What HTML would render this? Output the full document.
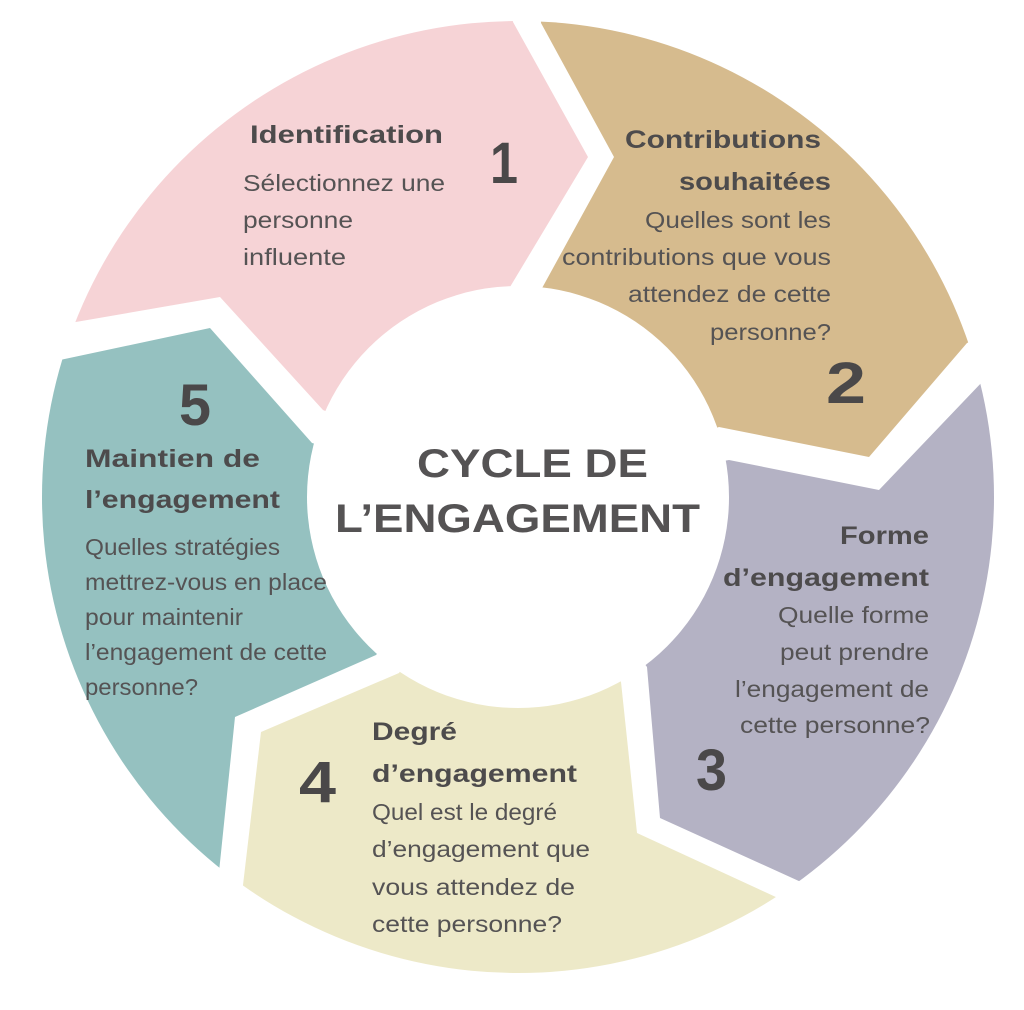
<!DOCTYPE html>
<html><head><meta charset="utf-8"><style>
html,body{margin:0;padding:0;background:#fff;overflow:hidden;width:1024px;height:1010px;}
svg{display:block;}
.h{font-family:"Liberation Sans",sans-serif;font-weight:bold;fill:#4d4b4c;font-size:25px;}
.b{font-family:"Liberation Sans",sans-serif;fill:#555354;font-size:23px;}
.n{font-family:"Liberation Sans",sans-serif;font-weight:bold;fill:#4a4849;font-size:58px;}
.c{font-family:"Liberation Sans",sans-serif;font-weight:bold;fill:#555354;font-size:40px;}
</style></head><body>
<svg width="1024" height="1010" viewBox="0 0 1024 1010" xmlns="http://www.w3.org/2000/svg">
<defs><clipPath id="oc"><circle cx="518" cy="497" r="476"/></clipPath></defs>
<g clip-path="url(#oc)">
<polygon fill="#f6d3d6" points="505,-100 513,22 588,157 510,287 518,497 323,410 220,297 70,323 -100,340 -100,-100"/>
<polygon fill="#d6bb8e" points="535,-100 541,23 614,157 541,290 518,497 719,427 869,457 967,343 1100,290 1100,-100"/>
<polygon fill="#b4b2c4" points="1100,330 984,380 879,490 729,460 518,497 647,667 660,818 801,882 900,1100 1100,1100"/>
<polygon fill="#ede9c8" points="880,1100 778,898 637,833 621,682 518,497 399,673 261,732 243,885 200,1100"/>
<polygon fill="#95c1c0" points="170,1100 219,872 235,717 376,655 518,497 312,443 210,328 60,360 -100,380 -100,1100"/>
</g>
<circle cx="518" cy="497" r="211" fill="#fff"/>

<text class="c" x="417" y="477" textLength="231" lengthAdjust="spacingAndGlyphs">CYCLE DE</text>
<text class="c" x="335" y="532" textLength="365" lengthAdjust="spacingAndGlyphs">L’ENGAGEMENT</text>

<text class="h" x="250" y="143" textLength="193" lengthAdjust="spacingAndGlyphs">Identification</text>
<text class="b" x="243" y="191" textLength="202" lengthAdjust="spacingAndGlyphs">Sélectionnez une</text>
<text class="b" x="243" y="228" textLength="110" lengthAdjust="spacingAndGlyphs">personne</text>
<text class="b" x="243" y="265" textLength="103" lengthAdjust="spacingAndGlyphs">influente</text>
<text class="n" x="490" y="183" textLength="28" lengthAdjust="spacingAndGlyphs">1</text>

<text class="h" x="625" y="148" textLength="196" lengthAdjust="spacingAndGlyphs">Contributions</text>
<text class="h" x="679" y="190" textLength="152" lengthAdjust="spacingAndGlyphs">souhaitées</text>
<text class="b" x="645" y="228" textLength="186" lengthAdjust="spacingAndGlyphs">Quelles sont les</text>
<text class="b" x="562" y="265" textLength="269" lengthAdjust="spacingAndGlyphs">contributions que vous</text>
<text class="b" x="628" y="302" textLength="203" lengthAdjust="spacingAndGlyphs">attendez de cette</text>
<text class="b" x="710" y="340" textLength="121" lengthAdjust="spacingAndGlyphs">personne?</text>
<text class="n" x="826" y="403" textLength="40" lengthAdjust="spacingAndGlyphs">2</text>

<text class="h" x="840" y="544" textLength="89" lengthAdjust="spacingAndGlyphs">Forme</text>
<text class="h" x="723" y="586" textLength="206" lengthAdjust="spacingAndGlyphs">d’engagement</text>
<text class="b" x="778" y="623" textLength="151" lengthAdjust="spacingAndGlyphs">Quelle forme</text>
<text class="b" x="780" y="660" textLength="149" lengthAdjust="spacingAndGlyphs">peut prendre</text>
<text class="b" x="735" y="697" textLength="194" lengthAdjust="spacingAndGlyphs">l’engagement de</text>
<text class="b" x="740" y="733" textLength="190" lengthAdjust="spacingAndGlyphs">cette personne?</text>
<text class="n" x="696" y="790" textLength="31" lengthAdjust="spacingAndGlyphs">3</text>

<text class="h" x="372" y="740" textLength="85" lengthAdjust="spacingAndGlyphs">Degré</text>
<text class="h" x="372" y="782" textLength="205" lengthAdjust="spacingAndGlyphs">d’engagement</text>
<text class="b" x="372" y="820" textLength="185" lengthAdjust="spacingAndGlyphs">Quel est le degré</text>
<text class="b" x="372" y="857" textLength="218" lengthAdjust="spacingAndGlyphs">d’engagement que</text>
<text class="b" x="372" y="895" textLength="203" lengthAdjust="spacingAndGlyphs">vous attendez de</text>
<text class="b" x="372" y="932" textLength="190" lengthAdjust="spacingAndGlyphs">cette personne?</text>
<text class="n" x="299" y="802" textLength="37" lengthAdjust="spacingAndGlyphs">4</text>

<text class="n" x="179" y="425" textLength="32" lengthAdjust="spacingAndGlyphs">5</text>
<text class="h" x="85" y="467" textLength="175" lengthAdjust="spacingAndGlyphs">Maintien de</text>
<text class="h" x="85" y="508" textLength="195" lengthAdjust="spacingAndGlyphs">l’engagement</text>
<text class="b" x="85" y="555" textLength="195" lengthAdjust="spacingAndGlyphs">Quelles stratégies</text>
<text class="b" x="85" y="590" textLength="242" lengthAdjust="spacingAndGlyphs">mettrez-vous en place</text>
<text class="b" x="85" y="625" textLength="158" lengthAdjust="spacingAndGlyphs">pour maintenir</text>
<text class="b" x="85" y="660" textLength="242" lengthAdjust="spacingAndGlyphs">l’engagement de cette</text>
<text class="b" x="85" y="695" textLength="113" lengthAdjust="spacingAndGlyphs">personne?</text>
</svg>
</body></html>
